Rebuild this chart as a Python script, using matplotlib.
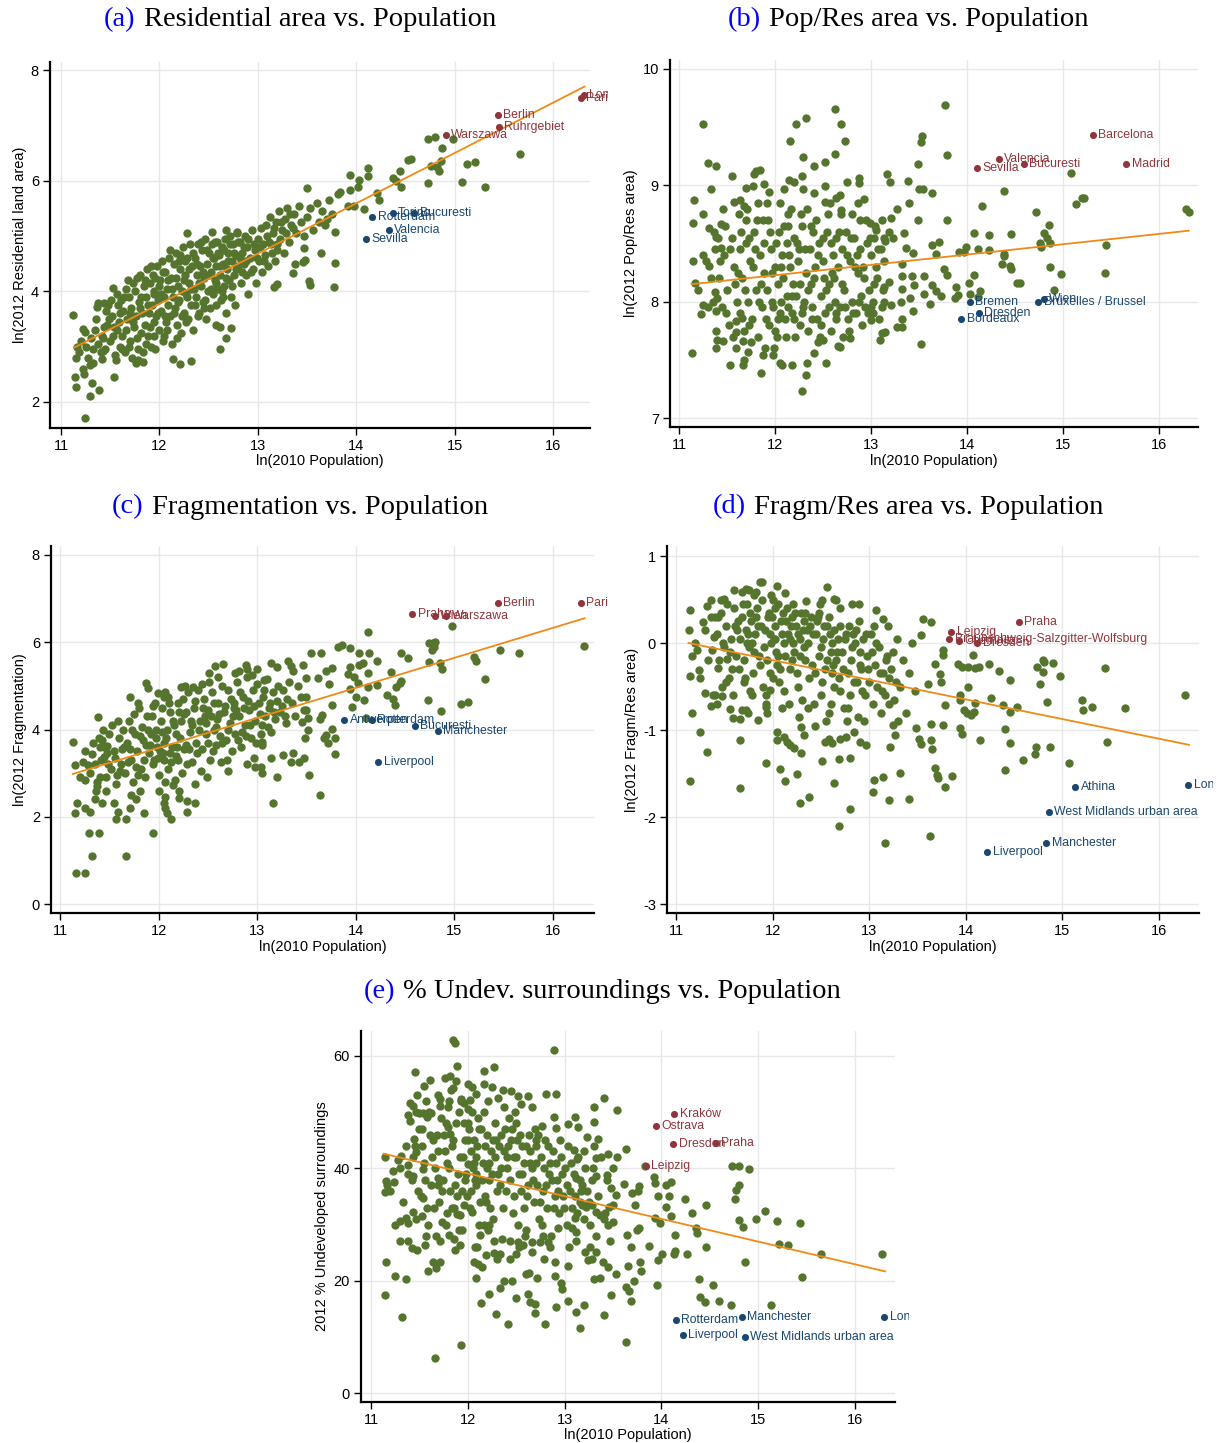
"""Five scatter panels: urban form measures against ln(2010 population)."""
import matplotlib
matplotlib.use("Agg")
import matplotlib.pyplot as plt
from matplotlib.transforms import Bbox, TransformedBbox

plt.rcParams["font.family"] = ["Liberation Sans", "DejaVu Sans"]
plt.rcParams["axes.unicode_minus"] = False

GREEN = "#55752f"
RED = "#90353b"
BLUE = "#1a476f"
ORANGE = "#ef8a17"
W, H = 1226, 1443

# ---------------- (a) residential land area ----------------
RES_PTS = [
    (11.12, 3.57), (11.14, 2.45), (11.15, 2.27), (11.15, 2.8), (11.16, 3.0), (11.24, 1.71),
    (11.23, 2.5), (11.29, 2.1), (11.31, 2.35), (11.39, 2.22), (11.29, 2.66), (11.22, 3.32),
    (11.24, 3.26), (11.35, 3.3), (11.38, 3.79), (11.44, 3.79), (11.37, 3.72), (11.54, 2.46),
    (11.53, 4.06), (11.42, 2.78), (11.43, 2.93), (11.78, 2.75), (11.83, 2.72), (11.76, 2.7),
    (12.14, 2.78), (12.21, 2.69), (12.32, 2.74), (12.62, 2.96), (12.68, 3.15), (12.73, 3.34),
    (12.62, 3.35), (12.28, 5.05), (12.53, 5.08), (12.68, 5.1), (12.79, 5.08), (13.5, 5.86),
    (13.47, 4.78), (13.46, 4.53), (13.38, 4.5), (13.36, 4.33), (13.53, 4.12), (13.52, 4.18),
    (13.16, 4.07), (13.19, 4.14), (13.77, 4.07), (13.78, 4.51), (13.78, 5.08), (13.64, 4.7),
    (13.48, 4.56), (13.94, 6.1), (14.03, 6.01), (14.12, 6.23), (14.12, 6.09), (14.02, 5.88),
    (13.94, 5.83), (14.23, 5.65), (14.21, 5.77), (14.08, 5.49), (13.98, 5.55), (13.92, 5.55),
    (13.84, 5.79), (13.81, 5.76), (14.37, 6.04), (14.4, 6.0), (14.46, 5.89), (14.45, 6.18),
    (14.53, 6.37), (14.56, 6.39), (14.73, 6.75), (14.8, 6.79), (14.98, 6.76), (14.87, 6.59),
    (14.76, 6.27), (14.82, 6.24), (14.86, 6.36), (14.84, 6.18), (14.73, 5.96), (15.08, 5.97),
    (15.13, 6.3), (15.21, 6.33), (15.31, 5.88), (15.66, 6.48),
    (11.18, 2.9), (11.2, 3.1), (11.22, 2.6), (11.25, 3.0), (11.27, 2.8), (11.3, 3.15),
    (11.33, 2.95), (11.32, 2.7),
    (11.38, 3.05), (11.42, 3.2), (11.45, 2.95), (11.47, 3.4), (11.5, 3.1), (11.52, 3.55),
    (11.55, 2.85), (11.57, 3.3), (11.46, 3.65), (11.58, 3.75), (11.6, 3.0), (11.41, 2.9),
    (11.49, 3.5), (11.53, 3.2), (11.56, 2.75), (11.59, 3.45), (11.44, 3.35), (11.51, 3.85),
    (11.36, 3.5), (11.6, 3.6),
    (11.62, 3.2), (11.64, 3.9), (11.65, 2.9), (11.67, 3.5), (11.68, 4.2), (11.7, 3.1),
    (11.71, 3.7), (11.72, 2.8), (11.74, 3.35), (11.75, 4.0), (11.76, 3.55), (11.78, 2.95),
    (11.79, 3.8), (11.8, 4.3), (11.81, 3.25), (11.82, 3.6), (11.83, 2.9), (11.84, 4.1),
    (11.85, 3.4), (11.63, 3.65), (11.69, 3.0), (11.73, 4.15), (11.77, 3.15), (11.66, 4.05),
    (11.8, 3.7),
    (11.86, 3.9), (11.87, 4.4), (11.88, 3.2), (11.89, 3.6), (11.9, 4.15), (11.91, 3.0),
    (11.92, 3.75), (11.93, 4.3), (11.94, 3.45), (11.95, 4.0), (11.96, 2.95), (11.97, 3.55),
    (11.98, 4.45), (11.99, 3.85), (12.0, 3.3), (12.01, 4.2), (12.02, 3.65), (12.03, 4.55),
    (12.04, 3.1), (12.05, 3.9), (12.06, 4.35), (12.07, 3.45), (12.08, 4.05), (12.09, 3.75),
    (12.1, 4.6), (11.9, 3.35), (12.0, 4.1), (12.05, 3.2),
    (12.11, 3.55), (12.12, 4.25), (12.13, 3.05), (12.14, 3.9), (12.15, 4.5), (12.16, 3.7),
    (12.17, 4.7), (12.18, 3.4), (12.19, 4.1), (12.2, 3.85), (12.21, 4.4), (12.22, 3.25),
    (12.23, 4.0), (12.24, 4.8), (12.25, 3.6), (12.26, 4.3), (12.27, 3.95), (12.28, 4.6),
    (12.29, 3.5), (12.3, 4.15), (12.31, 4.85), (12.32, 3.75), (12.33, 4.45), (12.34, 3.3),
    (12.35, 4.05), (12.2, 4.55), (12.25, 4.2),
    (12.36, 4.6), (12.37, 3.9), (12.38, 4.3), (12.39, 4.85), (12.4, 3.6), (12.41, 4.45),
    (12.42, 4.1), (12.43, 4.75), (12.44, 3.8), (12.45, 4.25), (12.46, 4.95), (12.47, 3.5),
    (12.48, 4.5), (12.49, 4.0), (12.5, 4.7), (12.51, 3.7), (12.52, 4.35), (12.53, 4.85),
    (12.54, 3.95), (12.55, 4.6), (12.56, 4.2), (12.57, 3.4), (12.58, 4.45), (12.59, 4.9),
    (12.6, 4.05),
    (12.61, 4.65), (12.62, 4.3), (12.63, 3.85), (12.64, 4.8), (12.65, 4.5), (12.66, 4.1),
    (12.67, 4.95), (12.68, 3.6), (12.69, 4.4), (12.7, 4.7), (12.71, 4.2), (12.72, 5.0),
    (12.73, 3.9), (12.74, 4.55), (12.75, 4.85), (12.76, 4.3), (12.77, 3.75), (12.78, 4.65),
    (12.79, 5.05), (12.8, 4.45), (12.82, 4.9), (12.83, 4.15), (12.84, 4.7),
    (12.86, 4.5), (12.87, 5.0), (12.88, 4.3), (12.89, 4.8), (12.9, 3.95), (12.92, 4.6),
    (12.94, 5.1), (12.95, 4.4), (12.97, 4.75), (12.98, 4.15), (13.0, 4.95), (13.01, 4.55),
    (13.03, 5.15), (13.04, 4.35), (13.05, 4.85), (13.07, 4.65), (13.08, 5.2), (13.1, 4.45),
    (13.11, 4.9), (13.12, 5.35), (13.14, 4.7), (13.15, 5.05), (13.17, 4.55), (13.18, 5.25),
    (13.2, 4.85), (13.22, 5.45), (13.23, 4.95), (13.25, 5.1), (13.27, 4.7), (13.28, 5.3),
    (13.3, 5.5), (13.32, 4.9), (13.34, 5.2),
    (13.37, 5.4), (13.39, 5.05), (13.42, 5.55), (13.44, 5.25), (13.47, 5.0), (13.5, 5.35),
    (13.53, 5.5), (13.56, 5.1), (13.6, 5.6), (13.62, 5.25), (13.65, 5.45), (13.68, 5.2),
    (13.72, 5.65), (13.75, 5.4), (13.7, 5.3),
    (11.43, 3.15), (11.48, 3.75), (11.54, 3.35), (11.61, 3.85), (11.66, 3.3), (11.69, 3.9),
    (11.73, 3.45), (11.77, 4.25), (11.81, 3.9), (11.85, 4.2), (11.88, 3.75), (11.91, 4.45),
    (11.94, 3.95), (11.96, 4.25), (11.99, 3.6), (12.02, 3.95), (12.04, 4.35), (12.06, 3.55),
    (12.09, 4.2), (12.11, 4.75), (12.13, 4.05), (12.15, 3.6), (12.17, 4.25), (12.19, 3.8),
    (12.21, 4.65), (12.23, 3.55), (12.26, 4.55), (12.28, 3.9), (12.3, 4.4), (12.32, 4.05),
    (12.34, 4.7), (12.36, 3.75), (12.38, 4.5), (12.4, 4.15), (12.42, 4.9), (12.44, 4.35),
    (12.46, 3.85), (12.48, 4.75), (12.5, 4.3), (12.52, 4.05), (12.54, 4.6), (12.56, 4.9),
    (12.58, 4.15), (12.6, 4.7), (12.62, 4.45), (12.64, 4.0), (12.66, 4.75), (12.68, 4.25),
    (12.7, 4.55), (12.72, 4.85), (12.74, 4.1), (12.76, 4.7), (12.78, 4.4), (12.8, 4.9),
    (12.82, 4.6), (12.84, 4.35), (12.86, 4.8), (12.88, 4.55), (12.9, 4.95), (12.93, 4.35),
    (12.96, 4.85), (12.99, 4.6), (13.02, 4.8), (13.06, 4.55), (13.09, 5.0), (13.13, 4.85),
    (13.16, 5.15), (13.19, 4.75), (13.24, 5.25), (13.29, 5.05), (13.33, 5.4), (13.36, 5.15),
    (11.57, 3.95), (11.62, 2.95), (11.7, 3.6), (11.86, 3.05), (11.95, 3.2), (12.08, 3.3),
    (12.18, 3.15), (12.27, 3.45), (12.39, 3.55), (12.45, 3.7), (12.57, 3.75), (12.65, 3.9),
]
RES_RED = [("Berlin", 15.44, 7.19), ("Ruhrgebiet", 15.45, 6.97), ("Warszawa", 14.91, 6.82),
           ("London", 16.31, 7.55), ("Paris", 16.28, 7.49)]
RES_BLUE = [("Torino", 14.37, 5.42), ("Bucuresti", 14.59, 5.42), ("Rotterdam", 14.16, 5.34),
            ("Valencia", 14.33, 5.1), ("Sevilla", 14.1, 4.95)]
RES_FIT = [(11.13, 2.98), (16.32, 7.7)]

# ---------------- (b) population / residential area ----------------
DEN_PTS = [
    (11.25, 9.53), (11.3, 9.19), (11.39, 9.17), (11.33, 8.97), (11.16, 8.87), (11.25, 8.75),
    (11.15, 8.68), (11.31, 8.63), (11.15, 8.35), (11.17, 8.16), (11.14, 7.56), (11.23, 7.89),
    (11.25, 7.97), (11.28, 8.35), (11.31, 8.31), (11.55, 9.08), (11.44, 8.67), (11.38, 8.56),
    (11.37, 8.45), (11.44, 8.46), (11.37, 8.08), (11.4, 8.03), (11.39, 7.92), (11.4, 7.67),
    (11.38, 7.6), (11.46, 7.66), (11.53, 7.46), (11.59, 7.74), (11.59, 7.83), (11.67, 7.46),
    (11.68, 7.5), (11.72, 7.57), (11.85, 7.39), (11.67, 7.66), (11.66, 7.86), (11.7, 8.98),
    (11.77, 8.99), (11.78, 9.1), (11.84, 9.13), (11.8, 9.12), (11.57, 8.86), (11.64, 8.87),
    (11.68, 8.82), (11.7, 8.7), (11.82, 8.85), (11.88, 9.01), (11.94, 8.94), (12.16, 9.38),
    (12.22, 9.53), (12.32, 9.58), (12.29, 9.24), (12.28, 9.08), (12.29, 8.97), (12.41, 9.17),
    (12.52, 9.2), (12.52, 8.99), (12.62, 9.27), (12.62, 9.66), (12.69, 9.53), (12.73, 9.38),
    (12.75, 9.03), (12.87, 9.06), (12.87, 9.02), (12.63, 8.89), (12.68, 8.92), (12.86, 8.85),
    (12.93, 8.88), (12.69, 8.79), (12.52, 8.86), (12.41, 8.93), (12.09, 8.97), (12.15, 9.05),
    (12.2, 9.03), (12.05, 8.85), (12.18, 7.46), (12.32, 7.37), (12.33, 7.47), (12.28, 7.23),
    (12.05, 7.47), (12.07, 7.46), (12.53, 7.47), (12.41, 7.56), (12.5, 7.67), (12.66, 7.62),
    (12.68, 7.61), (12.78, 7.69), (11.98, 7.54), (11.87, 7.54), (13.17, 9.1), (13.2, 9.03),
    (13.38, 9.04), (13.49, 9.18), (13.53, 9.42), (13.52, 9.37), (13.5, 8.97), (13.54, 8.97),
    (13.63, 8.93), (13.77, 9.69), (13.79, 9.26), (13.4, 8.85), (13.27, 8.8), (13.49, 8.7),
    (13.79, 8.7), (13.21, 8.72), (13.11, 8.7), (13.05, 8.62), (12.99, 8.68), (13.19, 8.6),
    (13.34, 8.59), (13.23, 8.55), (13.03, 8.55), (13.15, 8.52), (13.36, 8.46), (13.64, 8.49),
    (13.71, 8.51), (13.68, 8.41), (13.44, 8.42), (13.32, 8.32), (13.76, 8.28), (13.79, 8.23),
    (13.55, 8.22), (13.43, 8.22), (13.32, 8.22), (13.45, 8.14), (13.32, 8.11), (13.19, 8.17),
    (13.14, 8.13), (13.64, 8.14), (13.68, 8.09), (13.73, 8.05), (13.55, 8.07), (13.41, 8.03),
    (13.31, 8.0), (13.21, 7.97), (13.14, 8.0), (13.61, 7.98), (13.44, 7.92), (13.32, 7.85),
    (13.27, 7.78), (13.32, 7.78), (13.11, 7.73), (13.09, 7.67), (13.15, 7.74), (13.52, 7.64),
    (13.02, 7.9), (13.0, 7.84), (13.88, 8.13), (13.91, 8.06), (13.87, 8.03),
    (13.97, 8.43), (13.92, 8.43), (13.99, 8.47), (14.07, 8.59), (14.02, 8.16), (14.03, 8.07),
    (14.07, 8.23), (14.11, 8.04), (14.14, 8.09), (14.11, 8.45), (14.16, 8.82), (14.23, 8.57),
    (14.23, 8.44), (14.38, 8.95), (14.39, 8.41), (14.39, 8.39), (14.36, 8.32), (14.45, 8.31),
    (14.46, 8.28), (14.46, 8.58), (14.52, 8.16), (14.55, 8.16), (14.72, 8.77), (14.76, 8.5),
    (14.77, 8.47), (14.8, 8.59), (14.83, 8.55), (14.85, 8.66), (14.86, 8.5), (14.86, 8.3),
    (14.91, 8.1), (14.98, 8.24), (15.08, 9.11), (15.14, 8.84), (15.2, 8.89), (15.22, 8.89),
    (15.45, 8.49), (15.44, 8.25), (16.28, 8.8), (16.31, 8.77),
    (11.2, 8.1), (11.25, 8.4), (11.3, 7.95), (11.33, 8.2), (11.36, 8.6), (11.38, 7.75),
    (11.42, 8.2), (11.45, 7.95), (11.47, 8.4), (11.5, 8.1), (11.52, 7.8), (11.55, 8.55),
    (11.57, 8.3), (11.6, 8.0), (11.62, 8.75), (11.64, 7.9), (11.48, 8.65), (11.58, 8.15),
    (11.63, 8.45),
    (11.66, 8.2), (11.68, 7.75), (11.7, 8.5), (11.72, 8.0), (11.74, 8.35), (11.76, 7.85),
    (11.78, 8.6), (11.8, 8.1), (11.82, 7.7), (11.84, 8.4), (11.86, 7.95), (11.88, 8.25),
    (11.9, 7.6), (11.71, 8.8), (11.79, 8.45), (11.83, 8.0), (11.87, 8.7), (11.75, 7.65),
    (11.92, 8.1), (11.94, 7.8), (11.96, 8.45), (11.98, 7.95), (12.0, 8.3), (12.02, 7.7),
    (12.04, 8.6), (12.06, 8.0), (12.08, 8.2), (12.1, 7.85), (12.12, 8.5), (12.14, 7.95),
    (11.93, 8.7), (11.99, 7.6), (12.03, 8.15), (12.07, 8.4), (12.11, 7.7), (12.13, 8.75),
    (11.97, 8.25), (12.05, 7.9),
    (12.16, 8.3), (12.18, 7.9), (12.2, 8.55), (12.22, 8.05), (12.24, 8.35), (12.26, 7.8),
    (12.28, 8.65), (12.3, 8.0), (12.32, 8.25), (12.34, 7.75), (12.36, 8.45), (12.38, 7.95),
    (12.4, 8.6), (12.17, 8.8), (12.21, 7.7), (12.25, 8.45), (12.29, 7.95), (12.33, 8.8),
    (12.37, 8.15), (12.19, 8.15),
    (12.42, 8.3), (12.44, 7.85), (12.46, 8.5), (12.48, 8.05), (12.5, 8.35), (12.52, 7.9),
    (12.54, 8.6), (12.56, 8.15), (12.58, 7.75), (12.6, 8.4), (12.62, 8.0), (12.64, 8.55),
    (12.43, 8.7), (12.47, 7.7), (12.51, 8.2), (12.55, 8.75), (12.59, 8.25), (12.63, 7.85),
    (12.66, 8.3), (12.68, 7.95), (12.7, 8.45), (12.72, 8.1), (12.74, 8.6), (12.76, 7.85),
    (12.78, 8.35), (12.8, 8.0), (12.82, 8.55), (12.84, 7.9), (12.86, 8.25), (12.88, 8.7),
    (12.9, 8.05), (12.69, 8.75), (12.77, 7.75), (12.85, 8.4),
    (12.92, 8.3), (12.94, 7.95), (12.96, 8.5), (12.98, 8.1), (13.0, 8.4), (13.02, 8.0),
    (13.04, 8.65), (13.06, 8.2), (13.08, 7.85), (13.1, 8.45), (13.12, 8.1), (13.14, 8.55),
    (12.95, 8.7), (13.05, 8.3),
    (11.43, 8.35), (11.49, 7.9), (11.53, 8.45), (11.56, 7.7), (11.61, 8.25), (11.65, 8.6),
    (11.69, 8.1), (11.73, 8.55), (11.77, 8.3), (11.81, 8.7), (11.85, 8.15), (11.89, 8.5),
    (11.91, 7.85), (11.95, 8.6), (11.97, 8.0), (12.01, 8.5), (12.03, 7.85), (12.06, 8.3),
    (12.09, 8.65), (12.12, 8.05), (12.15, 8.4), (12.18, 8.05), (12.2, 7.85), (12.23, 8.5),
    (12.26, 8.15), (12.28, 7.9), (12.31, 8.45), (12.34, 8.1), (12.37, 8.65), (12.39, 7.85),
    (12.41, 8.2), (12.45, 8.4), (12.48, 7.8), (12.5, 8.55), (12.53, 8.1), (12.56, 7.95),
    (12.58, 8.5), (12.61, 8.2), (12.64, 7.9), (12.67, 8.6), (12.7, 8.15), (12.73, 7.95),
    (12.75, 8.4), (12.79, 8.55), (12.81, 7.9), (12.83, 8.3), (12.87, 8.0), (12.89, 8.45),
    (12.91, 7.8), (12.93, 8.2), (12.97, 7.9), (12.99, 8.55), (13.03, 8.15), (13.07, 8.45),
    (13.11, 7.95), (13.13, 8.35), (11.46, 8.8), (11.59, 7.6), (11.73, 7.8), (11.92, 8.85),
    (12.0, 7.75), (12.14, 8.65), (12.27, 8.75), (12.45, 7.65), (12.57, 8.85), (12.71, 7.7),
    (12.8, 8.75), (13.0, 7.95), (11.35, 8.0), (11.41, 8.55),
]
DEN_RED = [("Barcelona", 15.31, 9.43), ("Madrid", 15.66, 9.18), ("Valencia", 14.33, 9.23),
           ("Bucuresti", 14.59, 9.18), ("Sevilla", 14.1, 9.15)]
DEN_BLUE = [("Bremen", 14.03, 8.0), ("Dresden", 14.12, 7.9), ("Bordeaux", 13.94, 7.85),
            ("Wien", 14.8, 8.02), ("Bruxelles / Brussel", 14.74, 8.0)]
DEN_FIT = [(11.13, 8.15), (16.31, 8.61)]

# ---------------- (c) fragmentation ----------------
FRAG_PTS = [
    (11.13, 3.72), (11.15, 3.19), (11.23, 3.26), (11.28, 3.19), (11.25, 2.84), (11.17, 2.31),
    (11.15, 2.09), (11.25, 2.19), (11.3, 2.1), (11.29, 1.62), (11.4, 1.62), (11.32, 1.11),
    (11.16, 0.7), (11.25, 0.7), (11.32, 3.44), (11.37, 2.58), (11.36, 2.41), (11.43, 2.31),
    (11.38, 2.8), (11.41, 2.92), (11.39, 4.28), (11.44, 4.0), (11.4, 3.8), (11.41, 3.61),
    (11.45, 3.38), (11.48, 3.63), (11.55, 2.31), (11.57, 1.96), (11.59, 2.12), (11.67, 1.11),
    (11.67, 1.96), (11.71, 2.19), (11.72, 2.5), (11.77, 2.4), (11.71, 4.74), (11.85, 2.08),
    (11.94, 1.62), (11.87, 5.06), (11.89, 4.94), (11.99, 4.83), (12.07, 4.87), (12.07, 2.46),
    (12.06, 2.31), (12.07, 2.19), (12.09, 2.08), (12.13, 1.95), (12.15, 2.73), (12.21, 2.42),
    (12.29, 2.1), (12.29, 2.35), (12.37, 2.31), (12.23, 4.98), (12.35, 4.98), (12.57, 5.46),
    (12.65, 5.5), (12.51, 5.29), (12.82, 5.35), (12.89, 5.48), (12.9, 5.38), (13.0, 5.38),
    (13.07, 5.13), (13.14, 5.52), (13.2, 5.44), (13.31, 5.56), (13.34, 5.46), (13.36, 5.35),
    (13.46, 5.48), (13.5, 5.17), (13.5, 4.75), (13.55, 5.76), (13.65, 5.75), (13.62, 5.17),
    (13.7, 5.33), (13.76, 5.41), (13.73, 5.04), (13.76, 4.56), (13.64, 4.23), (13.66, 4.33),
    (13.52, 4.26), (13.5, 4.45), (13.45, 4.18), (13.52, 3.99), (13.49, 3.8), (13.36, 3.45),
    (13.34, 3.26), (13.42, 3.26), (13.47, 3.34), (13.26, 3.42), (13.14, 3.34), (13.2, 2.9),
    (13.05, 3.0), (13.04, 3.15), (13.05, 3.65), (13.05, 3.72), (12.98, 3.15), (12.97, 3.34),
    (13.16, 2.32), (13.53, 2.96), (13.64, 2.5), (13.76, 4.01), (13.68, 3.8), (13.72, 3.68),
    (13.79, 3.81), (13.79, 3.44), (13.7, 3.88), (13.82, 5.9), (13.86, 5.94), (13.94, 5.86),
    (14.03, 5.76), (14.13, 5.76), (14.12, 6.23), (14.07, 5.53), (14.03, 5.48), (14.22, 5.56),
    (13.94, 5.44), (13.92, 5.27), (13.98, 5.21), (14.02, 5.06), (14.12, 4.97), (14.22, 5.02),
    (14.12, 5.3), (13.94, 4.92), (13.96, 4.52), (14.0, 4.75), (14.08, 4.68), (14.1, 4.26),
    (14.36, 5.31), (14.46, 5.75), (14.53, 5.65), (14.41, 4.98), (14.45, 5.07), (14.46, 5.11),
    (14.32, 4.79), (14.38, 4.71), (14.4, 4.56), (14.74, 5.98), (14.78, 5.98), (14.8, 6.01),
    (14.77, 5.82), (14.79, 5.9), (14.74, 5.54), (14.85, 5.52), (14.87, 5.39), (14.73, 4.68),
    (14.86, 4.43), (14.98, 6.37), (15.07, 4.58), (15.14, 4.62), (15.2, 5.67), (15.22, 5.56),
    (15.31, 5.15), (15.46, 5.82), (15.66, 5.75), (16.31, 5.91),
    (11.2, 2.9), (11.25, 3.5), (11.3, 3.0), (11.33, 3.7), (11.36, 3.2), (11.38, 2.7),
    (11.42, 3.3), (11.45, 3.6), (11.47, 2.9), (11.5, 3.9), (11.52, 3.1), (11.55, 3.5),
    (11.57, 2.75), (11.6, 3.8), (11.62, 3.2), (11.64, 4.0), (11.48, 3.45), (11.58, 2.95),
    (11.63, 3.55),
    (11.66, 3.0), (11.68, 3.7), (11.7, 4.2), (11.72, 3.3), (11.74, 2.8), (11.76, 3.9),
    (11.78, 3.5), (11.8, 4.5), (11.82, 3.1), (11.84, 3.75), (11.86, 2.9), (11.88, 4.3),
    (11.9, 3.45), (11.71, 3.55), (11.79, 2.95), (11.83, 4.05), (11.87, 3.65), (11.75, 4.35),
    (11.92, 3.9), (11.94, 3.2), (11.96, 4.6), (11.98, 3.6), (12.0, 2.95), (12.02, 4.2),
    (12.04, 3.45), (12.06, 4.75), (12.08, 3.8), (12.1, 3.1), (12.12, 4.4), (12.14, 3.6),
    (11.93, 4.3), (11.99, 3.35), (12.03, 3.95), (12.07, 2.8), (12.11, 4.6), (12.13, 3.25),
    (11.97, 4.0), (12.05, 3.7),
    (12.16, 4.1), (12.18, 3.4), (12.2, 4.6), (12.22, 3.8), (12.24, 3.0), (12.26, 4.35),
    (12.28, 3.65), (12.3, 4.85), (12.32, 3.95), (12.34, 3.25), (12.36, 4.5), (12.38, 3.7),
    (12.4, 4.9), (12.17, 2.85), (12.21, 4.4), (12.25, 4.7), (12.29, 3.2), (12.33, 4.2),
    (12.37, 2.75), (12.19, 3.6),
    (12.42, 4.2), (12.44, 3.55), (12.46, 4.7), (12.48, 3.9), (12.5, 4.45), (12.52, 3.3),
    (12.54, 4.85), (12.56, 4.0), (12.58, 3.65), (12.6, 4.6), (12.62, 3.85), (12.64, 5.0),
    (12.43, 3.05), (12.47, 4.3), (12.51, 5.1), (12.55, 3.5), (12.59, 4.25), (12.63, 3.25),
    (12.66, 4.4), (12.68, 3.75), (12.7, 4.9), (12.72, 4.15), (12.74, 3.5), (12.76, 4.6),
    (12.78, 3.9), (12.8, 5.1), (12.82, 4.3), (12.84, 3.6), (12.86, 4.75), (12.88, 4.1),
    (12.9, 5.2), (12.69, 3.3), (12.77, 4.5), (12.85, 3.95),
    (12.92, 4.45), (12.94, 3.8), (12.96, 4.9), (12.98, 4.2), (13.0, 5.05), (13.02, 4.6),
    (13.04, 3.9), (13.06, 4.75), (13.08, 4.3), (13.1, 5.15), (13.12, 4.5), (13.14, 3.95),
    (13.16, 4.85), (13.18, 4.25), (13.2, 4.65), (12.95, 5.25), (13.05, 4.1),
    (13.23, 4.4), (13.26, 4.9), (13.29, 4.15), (13.32, 5.1), (13.35, 4.6), (13.38, 4.3),
    (13.41, 5.0), (13.44, 4.75), (13.47, 4.45), (13.3, 4.7),
    (11.43, 3.75), (11.49, 3.2), (11.53, 4.1), (11.56, 3.35), (11.61, 3.05), (11.65, 3.6),
    (11.69, 3.25), (11.73, 4.0), (11.77, 3.15), (11.81, 3.85), (11.85, 3.3), (11.89, 4.0),
    (11.91, 3.65), (11.95, 3.3), (11.97, 3.8), (12.01, 3.5), (12.03, 4.5), (12.06, 3.3),
    (12.09, 4.0), (12.12, 3.45), (12.15, 4.2), (12.18, 3.9), (12.2, 3.3), (12.23, 4.2),
    (12.26, 3.55), (12.28, 4.4), (12.31, 3.55), (12.34, 4.1), (12.37, 4.65), (12.39, 3.45),
    (12.41, 4.0), (12.45, 4.5), (12.48, 4.15), (12.5, 3.7), (12.53, 4.3), (12.56, 4.6),
    (12.58, 4.05), (12.61, 4.35), (12.64, 3.7), (12.67, 4.55), (12.7, 4.0), (12.73, 4.7),
    (12.75, 4.3), (12.79, 4.45), (12.81, 3.75), (12.83, 4.85), (12.87, 4.5), (12.89, 3.85),
    (12.91, 4.65), (12.93, 4.1), (12.97, 4.55), (12.99, 3.7), (13.03, 4.35), (13.07, 4.9),
    (13.11, 4.05), (13.13, 4.6), (13.17, 4.4), (13.21, 5.0), (13.25, 4.55), (13.28, 4.3),
    (11.59, 4.2), (11.79, 4.6), (11.94, 4.55), (12.1, 4.75), (12.27, 5.0), (12.44, 5.05),
    (12.6, 5.2), (12.78, 5.3), (11.47, 2.6), (11.81, 2.6), (12.0, 2.6), (12.21, 2.6),
    (12.49, 2.9), (12.7, 3.05), (12.9, 3.2),
]
FRAG_RED = [("Berlin", 15.44, 6.91), ("Paris", 16.28, 6.89), ("Praha", 14.57, 6.64),
            ("Wien", 14.8, 6.6), ("Warszawa", 14.92, 6.6)]
FRAG_BLUE = [("Antwerpen", 13.88, 4.22), ("Rotterdam", 14.16, 4.22), ("Bucuresti", 14.6, 4.07),
             ("Manchester", 14.83, 3.97), ("Liverpool", 14.23, 3.26)]
FRAG_FIT = [(11.13, 2.98), (16.32, 6.55)]

# ---------------- (d) fragmentation / residential area ----------------
FPR_PTS = [
    (11.13, 0.15), (11.15, 0.38), (11.17, -0.15), (11.14, -0.38), (11.17, -0.8), (11.15, -1.59),
    (11.25, -1.02), (11.32, -1.25), (11.24, -0.31), (11.22, -0.08), (11.28, 0.24), (11.32, 0.42),
    (11.36, 0.49), (11.4, 0.3), (11.39, 0.07), (11.37, -0.08), (11.3, -0.57), (11.36, -0.72),
    (11.42, -0.7), (11.4, -0.6), (11.44, -0.29), (11.48, -0.61), (11.52, -0.45), (11.56, -0.76),
    (11.59, -0.86), (11.53, -0.18), (11.5, 0.51), (11.6, 0.61), (11.68, 0.59), (11.72, 0.62),
    (11.76, 0.61), (11.83, 0.59), (11.87, 0.7), (11.89, 0.7), (11.66, -1.11), (11.66, -1.67),
    (11.7, -0.45), (11.68, -0.77), (11.72, -0.77), (11.75, -0.81), (11.66, -0.87), (11.77, -0.55),
    (11.85, -0.88), (11.93, -1.38), (11.93, -0.73), (11.93, -0.7), (11.97, -0.54), (12.05, 0.65),
    (11.98, 0.55), (12.13, 0.58), (12.05, -1.02), (12.05, -1.12), (12.08, -1.45), (12.13, -1.59),
    (12.12, -1.08), (12.15, -1.14), (12.18, -1.17), (12.22, -1.21), (12.29, -1.26), (12.25, -1.51),
    (12.28, -1.84), (12.38, -1.77), (12.33, -1.06), (12.29, -0.97), (12.35, 0.48), (12.51, 0.5),
    (12.56, 0.64), (12.64, 0.51), (12.66, 0.49), (12.51, -1.36), (12.54, -1.14), (12.58, -1.1),
    (12.62, -1.15), (12.64, -1.61), (12.69, -1.33), (12.69, -2.1), (12.8, -1.32), (12.8, -1.91),
    (12.84, -1.02), (12.76, -1.08), (12.7, -1.1), (12.91, -1.14), (12.97, -1.17), (12.82, 0.45),
    (12.89, 0.45), (13.07, 0.38), (13.14, 0.28), (13.19, 0.19), (13.22, -1.19), (13.2, -1.8),
    (13.04, -1.71), (13.05, -1.57), (13.14, -1.54), (13.16, -2.3), (13.27, -1.06), (13.25, -0.94),
    (13.32, -1.49), (13.41, -1.79), (13.48, -0.98), (13.52, -1.1), (13.54, -1.16), (13.56, 0.28),
    (13.54, 0.09), (13.64, 0.24), (13.64, -0.93), (13.64, -1.11), (13.65, -1.22), (13.63, -2.22),
    (13.68, -1.44), (13.7, -1.52), (13.71, -1.55), (13.78, -1.65), (13.86, -1.53), (13.76, -0.94),
    (13.78, -0.71), (13.74, -0.45), (13.73, -0.36), (13.76, -0.08), (13.76, -0.14), (13.68, -0.24),
    (13.61, -0.47), (13.92, -0.24), (13.96, -0.27), (13.94, -0.6), (13.94, -0.66), (13.98, -0.77),
    (13.94, -0.98), (13.96, -1.04), (14.02, -0.5), (14.02, -0.27), (14.1, -0.29), (14.07, -0.14),
    (14.14, -0.27), (14.1, -0.69), (14.08, -0.79), (14.01, -0.81), (14.05, -0.83), (14.15, -1.12),
    (14.24, -0.24), (14.26, -0.63), (14.34, -0.32), (14.38, -0.71), (14.41, -0.99), (14.41, -1.46),
    (14.46, -1.15), (14.46, -0.79), (14.46, -0.42), (14.53, -0.74), (14.59, -1.35), (14.74, -0.28),
    (14.8, -0.19), (14.81, -0.22), (14.8, -0.33), (14.77, -0.47), (14.84, -0.68), (14.9, -0.23),
    (14.97, -0.38), (14.72, -1.28), (14.73, -1.2), (14.87, -1.19), (15.07, -1.38), (15.2, -0.66),
    (15.21, -0.77), (15.31, -0.73), (15.44, -0.29), (15.46, -1.14), (15.65, -0.75), (16.27, -0.6),
    (11.2, 0.0), (11.25, -0.4), (11.3, 0.15), (11.33, -0.2), (11.36, 0.3), (11.38, -0.6),
    (11.42, 0.1), (11.45, -0.2), (11.47, 0.35), (11.5, -0.05), (11.52, 0.2), (11.55, -0.4),
    (11.57, 0.05), (11.6, 0.4), (11.62, -0.15), (11.64, 0.25), (11.48, -0.5), (11.58, -0.3),
    (11.63, 0.15),
    (11.66, 0.05), (11.68, 0.3), (11.7, -0.2), (11.72, 0.15), (11.74, 0.45), (11.76, -0.05),
    (11.78, 0.25), (11.8, -0.35), (11.82, 0.1), (11.84, 0.4), (11.86, -0.15), (11.88, 0.2),
    (11.9, -0.5), (11.71, -0.4), (11.79, 0.0), (11.83, 0.3), (11.87, -0.25), (11.75, 0.1),
    (11.92, 0.15), (11.94, -0.2), (11.96, 0.35), (11.98, 0.0), (12.0, -0.4), (12.02, 0.2),
    (12.04, -0.1), (12.06, 0.45), (12.08, -0.3), (12.1, 0.1), (12.12, -0.55), (12.14, 0.25),
    (11.93, -0.6), (11.99, 0.3), (12.03, 0.05), (12.07, -0.45), (12.11, 0.35), (12.13, -0.15),
    (11.97, 0.1), (12.05, -0.25),
    (12.16, 0.1), (12.18, -0.3), (12.2, 0.3), (12.22, -0.1), (12.24, 0.2), (12.26, -0.5),
    (12.28, 0.05), (12.3, -0.65), (12.32, 0.25), (12.34, -0.2), (12.36, 0.15), (12.38, -0.4),
    (12.4, 0.3), (12.17, -0.7), (12.21, 0.0), (12.25, -0.35), (12.29, 0.35), (12.33, -0.05),
    (12.37, -0.75), (12.19, 0.2),
    (12.42, 0.1), (12.44, -0.35), (12.46, 0.25), (12.48, -0.15), (12.5, -0.6), (12.52, 0.05),
    (12.54, -0.3), (12.56, 0.2), (12.58, -0.8), (12.6, -0.1), (12.62, 0.0), (12.64, -0.5),
    (12.43, -0.7), (12.47, 0.3), (12.51, -0.45), (12.55, -0.9), (12.59, 0.1), (12.63, -0.25),
    (12.66, -0.2), (12.68, 0.05), (12.7, -0.55), (12.72, -0.1), (12.74, -0.75), (12.76, 0.1),
    (12.78, -0.35), (12.8, -0.6), (12.82, -0.05), (12.84, -0.45), (12.86, 0.15), (12.88, -0.85),
    (12.9, -0.25), (12.69, -0.4), (12.77, -0.9), (12.85, 0.0),
    (12.92, -0.3), (12.94, 0.05), (12.96, -0.6), (12.98, -0.15), (13.0, -0.45), (13.02, 0.1),
    (13.04, -0.7), (13.06, -0.25), (13.08, -0.5), (13.1, -0.05), (13.12, -0.8), (13.14, -0.35),
    (13.16, -0.6), (13.18, -0.15), (13.2, -0.4), (12.95, -0.9), (13.05, 0.2),
    (13.23, -0.3), (13.26, -0.65), (13.29, 0.05), (13.32, -0.5), (13.35, -0.2), (13.38, -0.8),
    (13.41, -0.35), (13.44, 0.0), (13.47, -0.55), (13.3, -0.9),
    (11.43, 0.3), (11.49, 0.0), (11.53, 0.45), (11.56, -0.1), (11.61, 0.2), (11.65, -0.3),
    (11.69, 0.45), (11.73, 0.0), (11.77, 0.35), (11.81, -0.1), (11.85, 0.2), (11.89, 0.5),
    (11.91, -0.05), (11.95, 0.3), (11.97, -0.35), (12.01, 0.05), (12.03, 0.4), (12.06, -0.15),
    (12.09, 0.25), (12.12, 0.0), (12.15, 0.4), (12.18, 0.05), (12.2, -0.2), (12.23, 0.35),
    (12.26, 0.1), (12.28, -0.15), (12.31, 0.15), (12.34, 0.35), (12.37, 0.0), (12.39, 0.2),
    (12.41, -0.25), (12.45, 0.1), (12.48, 0.35), (12.5, -0.05), (12.53, 0.2), (12.56, -0.2),
    (12.58, 0.3), (12.61, -0.35), (12.64, 0.15), (12.67, -0.1), (12.7, 0.2), (12.73, -0.3),
    (12.75, 0.05), (12.79, 0.2), (12.81, -0.2), (12.83, 0.1), (12.87, -0.45), (12.89, 0.25),
    (12.91, -0.1), (12.93, -0.55), (12.97, 0.1), (12.99, -0.3), (13.03, -0.1), (13.07, 0.0),
    (13.11, -0.35), (13.13, -0.55), (13.17, -0.2), (13.21, -0.7), (13.25, -0.1), (13.28, -0.45),
    (11.59, -0.6), (11.79, -0.6), (11.94, -0.8), (12.1, -0.75), (12.27, -0.85), (12.44, -0.95),
    (12.6, -0.7), (12.78, -0.75), (11.47, 0.5), (11.81, 0.55), (12.0, 0.5), (12.21, 0.45),
    (12.49, 0.45), (12.7, 0.4),
]
FPR_RED = [("Praha", 14.55, 0.24), ("Leipzig", 13.85, 0.13),
           ("Braunschweig-Salzgitter-Wolfsburg", 13.83, 0.05), ("Chemnitz", 13.93, 0.02),
           ("Dresden", 14.12, 0.0)]
FPR_BLUE = [("Athina", 15.13, -1.66), ("London", 16.3, -1.63),
            ("West Midlands urban area", 14.86, -1.94), ("Manchester", 14.83, -2.3),
            ("Liverpool", 14.22, -2.4)]
FPR_FIT = [(11.13, 0.0), (16.31, -1.17)]

# ---------------- (e) % undeveloped surroundings ----------------
UND_PTS = [
    (11.14, 42.1), (11.16, 37.7), (11.14, 35.8), (11.17, 37.1), (11.16, 23.3), (11.15, 17.5),
    (11.25, 20.8), (11.32, 13.6), (11.36, 20.3), (11.23, 39.5), (11.24, 37.6), (11.28, 41.5),
    (11.31, 42.2), (11.3, 27.1), (11.3, 30.6), (11.38, 30.2), (11.36, 31.2), (11.42, 25.8),
    (11.48, 25.4), (11.43, 32.2), (11.38, 39.0), (11.38, 40.6), (11.43, 38.7), (11.4, 51.6),
    (11.43, 51.1), (11.38, 49.5), (11.4, 48.5), (11.45, 57.1), (11.44, 45.2), (11.47, 42.9),
    (11.5, 49.9), (11.54, 49.9), (11.53, 47.0), (11.56, 26.4), (11.53, 31.6), (11.54, 34.7),
    (11.54, 39.8), (11.59, 21.8), (11.55, 54.7), (11.61, 55.8), (11.57, 52.0), (11.58, 49.1),
    (11.62, 49.8), (11.64, 23.4), (11.66, 6.2), (11.67, 22.2), (11.67, 28.0), (11.69, 37.1),
    (11.69, 38.2), (11.71, 52.3), (11.69, 53.1), (11.71, 51.1), (11.73, 30.5), (11.71, 23.3),
    (11.76, 56.1), (11.82, 56.5), (11.85, 62.8), (11.87, 62.3), (11.89, 58.2), (11.85, 54.3),
    (11.88, 55.5), (11.8, 47.3), (11.82, 46.1), (11.81, 28.1), (11.86, 27.5), (11.87, 25.4),
    (11.84, 32.9), (11.92, 26.3), (11.93, 8.6), (11.91, 29.1), (11.89, 31.8), (11.92, 31.7),
    (11.96, 33.5), (12.0, 55.0), (12.04, 54.4), (12.0, 50.5), (11.96, 51.6), (11.93, 52.3),
    (12.02, 52.2), (12.09, 53.2), (12.0, 40.7), (12.09, 39.0), (12.04, 32.3), (12.07, 26.0),
    (12.06, 23.4), (12.08, 20.5), (12.11, 22.9), (12.15, 22.4), (12.14, 16.0), (12.13, 28.1),
    (12.17, 55.0), (12.17, 57.4), (12.27, 58.0), (12.25, 54.4), (12.22, 41.0), (12.22, 29.9),
    (12.17, 29.9), (12.19, 24.5), (12.22, 17.7), (12.29, 14.1), (12.33, 18.7), (12.3, 23.9),
    (12.33, 24.8), (12.27, 27.0), (12.35, 27.5), (12.36, 53.9), (12.31, 52.6), (12.42, 12.3),
    (12.37, 20.0), (12.46, 20.0), (12.5, 16.9), (12.44, 23.9), (12.5, 24.8), (12.53, 26.0),
    (12.57, 26.3), (12.52, 26.9), (12.45, 53.8), (12.52, 52.8), (12.55, 51.4), (12.62, 52.8),
    (12.66, 50.9), (12.62, 17.7), (12.64, 16.2), (12.69, 15.9), (12.69, 14.3), (12.8, 12.3),
    (12.71, 20.5), (12.6, 21.1), (12.63, 21.3), (12.66, 25.1), (12.66, 26.9), (12.75, 26.9),
    (12.83, 26.9), (12.85, 26.0), (12.79, 23.9), (12.9, 23.3), (12.9, 20.9), (12.91, 15.3),
    (12.96, 19.5), (12.97, 18.6), (13.04, 16.3), (13.04, 22.6), (12.93, 29.4), (12.81, 53.2),
    (12.91, 53.2), (12.89, 61.0), (12.77, 47.6), (12.89, 49.1), (12.91, 47.2), (13.04, 47.9),
    (13.11, 49.2), (13.14, 47.4), (13.12, 14.4), (13.16, 11.6), (13.2, 15.6), (13.3, 51.0),
    (13.41, 52.5), (13.54, 50.3), (13.3, 48.3), (13.35, 45.2), (13.32, 41.9), (13.45, 42.6),
    (13.54, 42.0), (13.63, 43.4), (13.61, 37.2), (13.5, 40.1), (13.44, 38.8), (13.32, 38.6),
    (13.48, 36.5), (13.53, 35.3), (13.7, 35.6), (13.76, 35.9), (13.77, 36.8), (13.73, 33.5),
    (13.46, 33.2), (13.5, 33.5), (13.42, 32.0), (13.37, 31.7), (13.45, 29.9), (13.5, 30.5),
    (13.64, 28.1), (13.75, 29.0), (13.77, 29.4), (13.69, 26.0), (13.65, 22.7), (13.78, 23.3),
    (13.79, 21.8), (13.72, 19.9), (13.63, 18.9), (13.67, 18.1), (13.69, 16.3), (13.63, 9.1),
    (13.48, 17.5), (13.53, 21.1), (13.45, 22.4), (13.37, 20.5), (13.3, 20.3), (13.41, 13.9),
    (13.32, 25.1), (13.26, 26.0), (13.21, 25.1), (13.24, 23.6), (13.28, 23.9), (13.4, 23.3),
    (13.28, 33.5), (13.32, 32.2), (13.18, 33.5), (13.22, 33.2), (13.12, 28.7), (13.08, 29.3),
    (13.11, 31.1), (13.12, 38.3), (13.16, 38.0), (13.13, 41.6), (13.1, 43.3), (13.2, 43.1),
    (13.23, 45.6), (13.83, 40.4), (13.92, 38.5), (13.93, 37.4), (13.97, 35.0), (13.93, 31.2),
    (13.99, 30.2), (14.01, 24.8), (13.95, 19.2), (13.87, 26.2), (13.96, 23.6), (14.05, 37.0),
    (14.1, 37.6), (14.08, 35.1), (14.05, 33.1), (14.1, 31.6), (14.14, 28.1), (14.13, 24.8),
    (14.14, 25.2), (14.26, 24.8), (14.24, 34.6), (14.32, 32.0), (14.36, 29.4), (14.37, 28.4),
    (14.39, 20.3), (14.4, 17.1), (14.45, 16.2), (14.46, 26.0), (14.46, 33.5), (14.53, 19.3),
    (14.6, 16.3), (14.72, 15.7), (14.73, 40.4), (14.8, 40.4), (14.91, 39.8), (14.8, 37.1),
    (14.77, 36.2), (14.76, 34.5), (14.8, 30.8), (14.84, 29.6), (14.86, 23.3), (14.98, 31.0),
    (15.07, 32.4), (15.13, 15.7), (15.19, 30.6), (15.21, 26.6), (15.31, 26.4), (15.43, 30.2),
    (15.45, 20.6), (15.65, 24.7), (16.28, 24.7),
    (11.2, 36), (11.25, 30), (11.3, 40), (11.33, 34), (11.36, 44), (11.38, 27),
    (11.42, 38), (11.45, 44), (11.47, 31), (11.5, 47), (11.52, 35), (11.55, 41), (11.57, 28),
    (11.6, 50), (11.62, 37), (11.64, 45), (11.48, 53), (11.58, 33), (11.63, 42),
    (11.66, 40), (11.68, 46), (11.7, 34), (11.72, 49), (11.74, 38), (11.76, 43), (11.78, 30),
    (11.8, 51), (11.82, 36), (11.84, 44), (11.86, 33), (11.88, 48), (11.9, 39), (11.71, 27),
    (11.79, 41), (11.83, 54), (11.87, 37), (11.75, 46),
    (11.92, 42), (11.94, 36), (11.96, 48), (11.98, 39), (12.0, 45), (12.02, 33), (12.04, 50),
    (12.06, 41), (12.08, 37), (12.1, 44), (12.12, 30), (12.14, 47), (11.93, 52), (11.99, 35),
    (12.03, 43), (12.07, 38), (12.11, 49), (12.13, 34), (11.97, 45), (12.05, 40),
    (12.16, 41), (12.18, 35), (12.2, 46), (12.22, 38), (12.24, 43), (12.26, 31), (12.28, 48),
    (12.3, 36), (12.32, 44), (12.34, 40), (12.36, 33), (12.38, 47), (12.4, 42), (12.17, 50),
    (12.21, 29), (12.25, 39), (12.29, 45), (12.33, 37), (12.37, 51), (12.19, 34),
    (12.42, 44), (12.44, 38), (12.46, 47), (12.48, 35), (12.5, 42), (12.52, 30), (12.54, 46),
    (12.56, 39), (12.58, 33), (12.6, 44), (12.62, 37), (12.64, 41), (12.43, 49), (12.47, 32),
    (12.51, 45), (12.55, 36), (12.59, 28), (12.63, 46),
    (12.66, 40), (12.68, 34), (12.7, 44), (12.72, 37), (12.74, 31), (12.76, 42), (12.78, 36),
    (12.8, 45), (12.82, 33), (12.84, 39), (12.86, 28), (12.88, 43), (12.9, 35), (12.69, 47),
    (12.77, 30), (12.85, 41),
    (12.92, 38), (12.94, 32), (12.96, 42), (12.98, 35), (13.0, 40), (13.02, 30), (13.04, 44),
    (13.06, 36), (13.08, 33), (13.1, 39), (13.12, 27), (13.14, 42), (13.16, 34), (13.18, 37),
    (13.2, 31), (12.95, 45), (13.05, 26),
    (13.23, 36), (13.26, 30), (13.29, 40), (13.32, 28), (13.35, 35), (13.38, 42), (13.41, 31),
    (13.44, 38), (13.47, 27), (13.3, 44),
    (11.43, 42), (11.49, 36), (11.53, 44), (11.56, 38), (11.61, 46), (11.65, 33), (11.69, 43),
    (11.73, 36), (11.77, 48), (11.81, 40), (11.85, 45), (11.89, 35), (11.91, 50), (11.95, 42),
    (11.97, 38), (12.01, 47), (12.03, 36), (12.06, 45), (12.09, 42), (12.12, 47), (12.15, 38),
    (12.18, 44), (12.2, 40), (12.23, 33), (12.26, 45), (12.28, 42), (12.31, 39), (12.34, 46),
    (12.37, 43), (12.39, 36), (12.41, 40), (12.45, 45), (12.48, 42), (12.5, 48), (12.53, 39),
    (12.56, 44), (12.58, 41), (12.61, 35), (12.64, 43), (12.67, 38), (12.7, 41), (12.73, 46),
    (12.75, 34), (12.79, 40), (12.81, 37), (12.83, 44), (12.87, 38), (12.89, 33), (12.91, 41),
    (12.93, 36), (12.97, 39), (12.99, 33), (13.03, 37), (13.07, 41), (13.11, 35), (13.13, 32),
    (13.17, 36), (13.21, 40), (13.25, 34), (13.28, 38), (11.59, 30), (11.79, 32), (11.94, 29),
    (12.1, 26), (12.27, 25), (12.44, 27), (12.6, 29), (12.78, 28), (11.47, 50), (11.81, 52),
    (12.0, 48), (12.21, 52), (12.49, 50), (12.7, 45),
]
UND_RED = [("Kraków", 14.13, 49.7), ("Ostrava", 13.94, 47.6), ("Dresden", 14.12, 44.4),
           ("Praha", 14.56, 44.5), ("Leipzig", 13.84, 40.5)]
UND_BLUE = [("Rotterdam", 14.15, 13.0), ("Liverpool", 14.22, 10.3), ("Manchester", 14.83, 13.6),
            ("West Midlands urban area", 14.86, 9.9), ("London", 16.3, 13.6)]
UND_FIT = [(11.13, 42.6), (16.31, 21.66)]

XTICKS = [11, 12, 13, 14, 15, 16]


def px_rect(left, top, right, bottom):
    return [left / W, 1 - bottom / H, (right - left) / W, (bottom - top) / H]


def panel(fig, rect, pts, red, blue, fit, xlim, ylim, yticks, ylabel, clip_right):
    ax = fig.add_axes(rect)
    xs, ys = zip(*pts)
    ax.scatter(xs, ys, s=36, color=GREEN, linewidths=0, zorder=2)
    fx, fy = zip(*fit)
    ax.plot(fx, fy, color=ORANGE, lw=1.3, zorder=3)
    clip = TransformedBbox(Bbox.from_extents(0, 0, clip_right / W, 1), fig.transFigure)
    for group, col in ((red, RED), (blue, BLUE)):
        for name, x, y in group:
            ax.scatter([x], [y], s=26, color=col, linewidths=0, zorder=4)
            t = ax.annotate(name, (x, y), xytext=(4, 0), textcoords="offset points",
                            va="center", ha="left", fontsize=8.8, color=col,
                            annotation_clip=False, zorder=5)
            t.set_clip_on(True)
            t.set_clip_box(clip)
    ax.set_xlim(*xlim)
    ax.set_ylim(*ylim)
    ax.set_xticks(XTICKS)
    ax.set_yticks(yticks)
    ax.grid(True, color="#e8e8e8", lw=1.0, zorder=0)
    ax.set_axisbelow(True)
    for side in ("top", "right"):
        ax.spines[side].set_visible(False)
    for side in ("left", "bottom"):
        ax.spines[side].set_linewidth(1.6)
    ax.tick_params(length=5, width=1, labelsize=10.5, pad=3)
    ax.set_xlabel("ln(2010 Population)", fontsize=10.5, labelpad=1)
    ax.set_ylabel(ylabel, fontsize=10.5, labelpad=3)
    return ax


def title(fig, cx, cy, tag, text):
    r = fig.canvas.get_renderer()
    kw = dict(fontsize=20.5, family=["Liberation Serif", "DejaVu Serif"], va="center", ha="left")
    t1 = fig.text(0, 1 - cy / H, tag, color="#0000ff", **kw)
    t2 = fig.text(0, 1 - cy / H, text, color="black", **kw)
    w1 = t1.get_window_extent(r).width
    w2 = t2.get_window_extent(r).width
    gap = 8
    x0 = cx - (w1 + gap + w2) / 2
    t1.set_x(x0 / W)
    t2.set_x((x0 + w1 + gap) / W)


def main():
    fig = plt.figure(figsize=(W / 100, H / 100), dpi=100)

    panel(fig, px_rect(50, 62, 590, 428), RES_PTS, RES_RED, RES_BLUE, RES_FIT,
          (10.888, 16.376), (1.53, 8.145), [2, 4, 6, 8], "ln(2012 Residential land area)", 608)
    panel(fig, px_rect(670, 60, 1198, 427), DEN_PTS, DEN_RED, DEN_BLUE, DEN_FIT,
          (10.906, 16.406), (6.923, 10.077), [7, 8, 9, 10], "ln(2012 Pop/Res area)", 1213)
    panel(fig, px_rect(51, 546, 594, 913), FRAG_PTS, FRAG_RED, FRAG_BLUE, FRAG_FIT,
          (10.909, 16.416), (-0.206, 8.206), [0, 2, 4, 6, 8], "ln(2012 Fragmentation)", 608)
    panel(fig, px_rect(667, 546, 1199, 913), FPR_PTS, FPR_RED, FPR_BLUE, FPR_FIT,
          (10.907, 16.414), (-3.103, 1.115), [-3, -2, -1, 0, 1], "ln(2012 Fragm/Res area)", 1213)
    panel(fig, px_rect(361, 1031, 895, 1402), UND_PTS, UND_RED, UND_BLUE, UND_FIT,
          (10.897, 16.413), (-1.6, 64.45), [0, 20, 40, 60], "2012 % Undeveloped surroundings", 909)

    title(fig, 300, 20, "(a)", "Residential area vs. Population")
    title(fig, 908, 20, "(b)", "Pop/Res area vs. Population")
    title(fig, 300, 507, "(c)", "Fragmentation vs. Population")
    title(fig, 908, 507, "(d)", "Fragm/Res area vs. Population")
    title(fig, 602, 992, "(e)", "% Undev. surroundings vs. Population")

    fig.savefig("out.png", dpi=100)
    plt.close(fig)


if __name__ == "__main__":
    main()
